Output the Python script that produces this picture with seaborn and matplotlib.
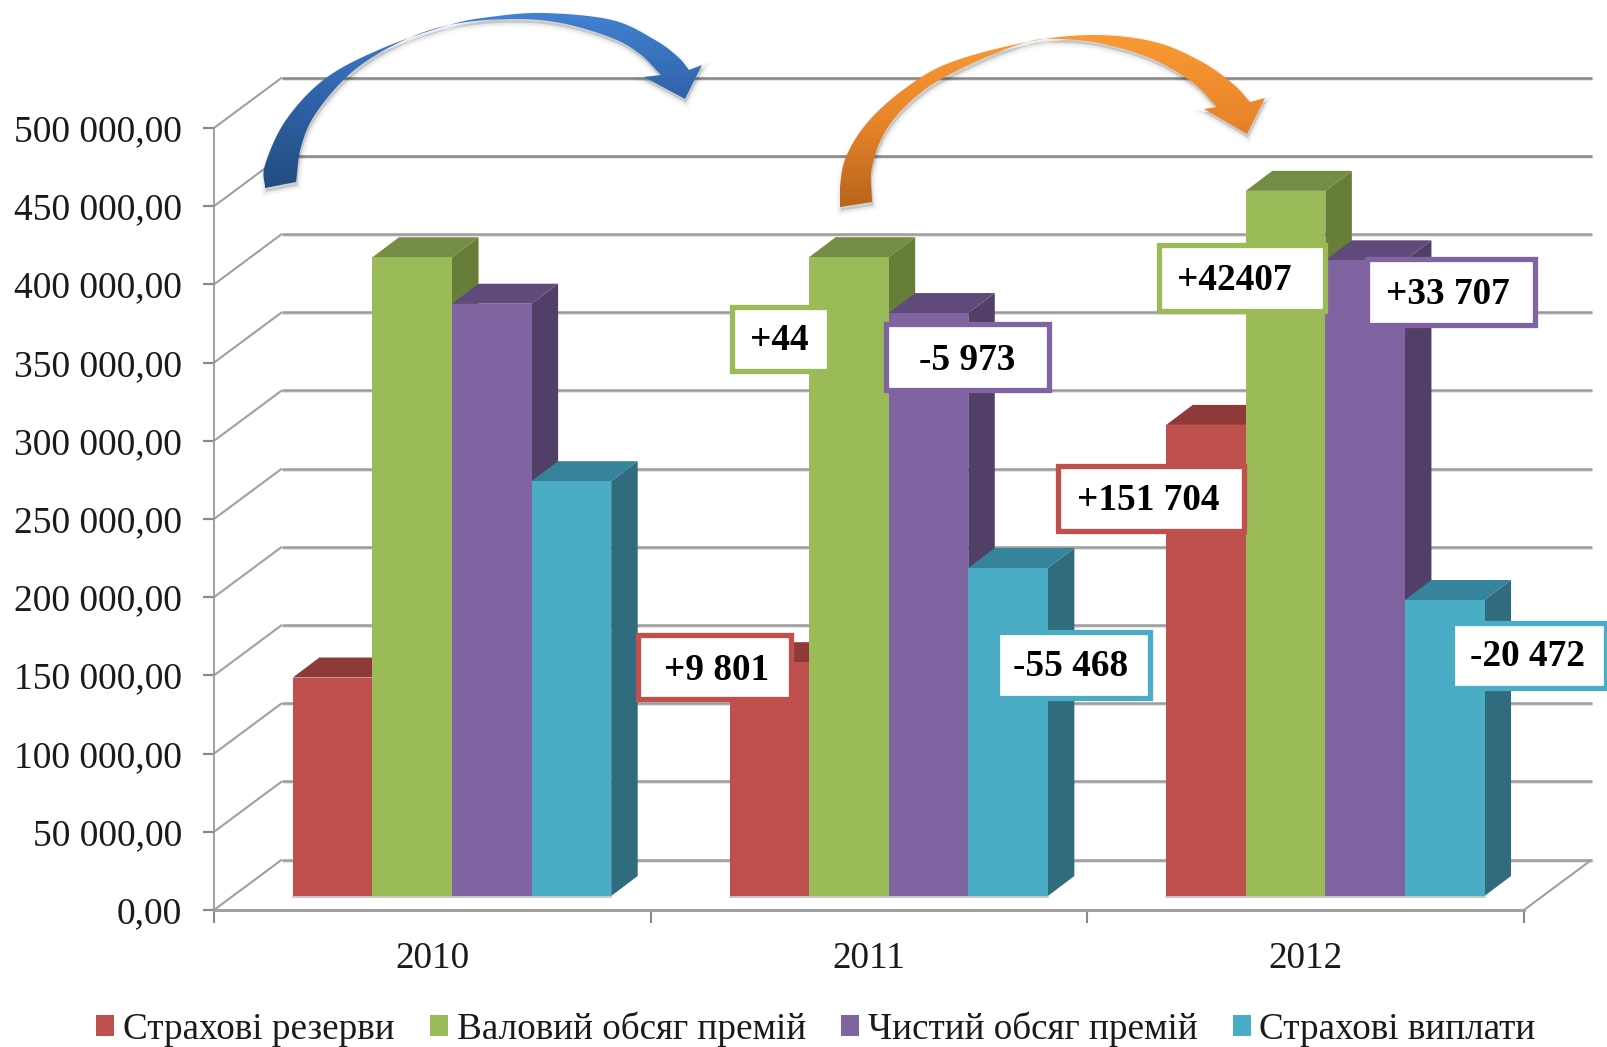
import numpy as np
import pandas as pd
import matplotlib
matplotlib.use("Agg")
import matplotlib.pyplot as plt
import seaborn as sns
from matplotlib.colors import LinearSegmentedColormap
from matplotlib.patches import Polygon, Rectangle
from matplotlib.ticker import FuncFormatter
from matplotlib.transforms import Affine2D

W, H = 1608, 1047
FONT = "Liberation Serif"

# ---- chart data -------------------------------------------------------------
years = ["2010", "2011", "2012"]
series_names = ["Страхові резерви", "Валовий обсяг премій",
                "Чистий обсяг премій", "Страхові виплати"]
reserves = [139700, 149500, 301200]
gross_premiums = [408400, 408444, 450850]
net_premiums = [378700, 372730, 406440]
payouts = [265200, 209730, 189260]
axis_levels = [0, 50000, 100000, 150000, 200000, 250000,
               300000, 350000, 400000, 450000, 500000]

change_labels = ["+9 801", "+44", "-5 973", "-55 468",
                 "+151 704", "+42407", "+33 707", "-20 472"]
change_series = [0, 1, 2, 3, 0, 1, 2, 3]

# ---- styling ---------------------------------------------------------------
front_colors = ["#C0504D", "#9BBB59", "#8064A2", "#4BACC6"]
top_colors = ["#8F3A39", "#748C45", "#604A7B", "#36849B"]
side_colors = ["#7D3331", "#667E38", "#523F68", "#306C7E"]
text_color = "#1A1A1A"

# label boxes: left, top, right, bottom and text centre, in pixels from the top left
box_geometry = [
    (638, 635, 791, 699, 717, 670),
    (732, 307, 829, 371, 779, 341),
    (886, 324, 1049, 390, 967, 360),
    (997, 632, 1150, 698, 1071, 667),
    (1058, 466, 1244, 531, 1148, 500),
    (1159, 245, 1325, 311, 1234, 280),
    (1367, 259, 1535, 325, 1448, 295),
    (1452, 623, 1606, 688, 1528, 657),
]

sns.set_theme(style="white")
plt.rcParams["font.family"] = [FONT, "DejaVu Sans"]

frame = pd.DataFrame({"year": years, series_names[0]: reserves,
                      series_names[1]: gross_premiums,
                      series_names[2]: net_premiums,
                      series_names[3]: payouts})
long_frame = frame.melt(id_vars="year", var_name="series", value_name="value")

fig = plt.figure(figsize=(W / 100, H / 100), dpi=100, facecolor="white")
ax = fig.add_axes([214 / W, (H - 910) / H, 1310 / W, 782 / H])
ax.patch.set_alpha(0)

sns.barplot(data=long_frame, x="year", y="value", hue="series",
            hue_order=series_names, palette=front_colors, saturation=1,
            width=0.729, gap=0, dodge=True, order=years, ax=ax,
            edgecolor="none", linewidth=0)
ax.set_xlim(-0.5, 2.5)
ax.set_ylim(axis_levels[0], axis_levels[-1])
ax.set_xlabel("")
ax.set_ylabel("")

# oblique projection: planes inside the chart box are pixel shifts of the front plane
WALL_DX, WALL_DY = 68, 50.5
BAR_DX, BAR_DY = 19.7, 14
FACE_DX, FACE_DY = 26.5, 20
bar_plane = ax.transData + Affine2D().translate(BAR_DX, BAR_DY)
wall_plane = ax.transData + Affine2D().translate(WALL_DX, WALL_DY)
to_display = Affine2D()


def wall_line(x_pixels, y_pixels, lw, color, z=1):
    ax.plot(x_pixels, y_pixels, color=color, lw=lw, transform=to_display,
            clip_on=False, zorder=z, solid_capstyle="butt")


# back wall gridlines and the slanted left wall lines
for level in axis_levels:
    x0, y0 = ax.transData.transform((-0.5, level))
    x1, y1 = wall_plane.transform((-0.5, level))
    x2, _ = wall_plane.transform((2.5, level))
    wall_line([x1, x2], [y1 - 1, y1 - 1], 1.8, "#DADADA", 0.8)
    wall_line([x1, x2], [y1, y1], 1.8, "#868686" if level >= 450000 else "#9C9C9C")
    wall_line([x0, x1], [y0, y1], 1.5, "#A0A0A0")

# right edge of the floor
xr0, yr0 = ax.transData.transform((2.5, 0))
xr1, yr1 = wall_plane.transform((2.5, 0))
wall_line([xr0, xr1], [yr0, yr1], 1.5, "#A0A0A0")

# extruded bars: each one is painted side, top, front from left to right
for s, container in enumerate(ax.containers):
    for y_i, bar in enumerate(container):
        order = 3 + (y_i * 4 + s) * 0.01
        x, w, h = bar.get_x(), bar.get_width(), bar.get_height()
        (xl, yb) = bar_plane.transform((x, 0))
        (xr, yt) = bar_plane.transform((x + w, h))
        side = Polygon([(xr, yb), (xr + FACE_DX, yb + FACE_DY),
                        (xr + FACE_DX, yt + FACE_DY), (xr, yt)],
                       closed=True, fc=side_colors[s], ec="none",
                       transform=to_display, clip_on=False, zorder=order)
        top = Polygon([(xl, yt), (xl + FACE_DX, yt + FACE_DY),
                       (xr + FACE_DX, yt + FACE_DY), (xr, yt)],
                      closed=True, fc=top_colors[s], ec="none",
                      transform=to_display, clip_on=False, zorder=order)
        ax.add_patch(side)
        ax.add_patch(top)
        bar.set_transform(bar_plane)
        bar.set_clip_on(False)
        bar.set_zorder(order + 0.001)
        ax.plot([xl, xr], [yb - 1, yb - 1], color="#C4C4C4", lw=1.4,
                transform=to_display, clip_on=False, zorder=2.5)

# axes furniture
sns.despine(ax=ax, top=True, right=True)
ax.spines["left"].set(color="#999999", linewidth=1.3)
ax.spines["bottom"].set(color="#A0A0A0", linewidth=2.2)
ax.spines["bottom"].set_zorder(2)
ax.set_yticks(axis_levels)
ax.yaxis.set_major_formatter(FuncFormatter(
    lambda v, _: f"{int(v):,}".replace(",", " ") + ",00"))
ax.tick_params(axis="y", length=8, width=1.6, color="#8A8A8A", pad=15,
               labelsize=27, labelcolor=text_color, left=True)
ax.set_xticks(range(len(years)), labels=years)
ax.set_xticks([-0.5, 0.5, 1.5, 2.5], minor=True)
ax.tick_params(axis="x", which="major", length=0, pad=23, labelsize=26.8,
               labelcolor=text_color)
ax.tick_params(axis="x", which="minor", length=9, width=1.5, color="#8A8A8A",
               bottom=True)
for label in ax.get_xticklabels() + ax.get_yticklabels():
    label.set_family(FONT)

# legend under the chart
sns.move_legend(ax, "center", bbox_to_anchor=(816 / W, (H - 1029) / H),
                bbox_transform=fig.transFigure, ncol=4, frameon=False, title=None,
                fontsize=26.7, handlelength=0.48, handleheight=0.48,
                handletextpad=0.24, columnspacing=0.95, borderpad=0, borderaxespad=0)
for t in ax.get_legend().get_texts():
    t.set_color(text_color)


def fig_xy(points):
    pts = np.asarray(points, dtype=float)
    return np.column_stack((pts[:, 0] / W, 1 - pts[:, 1] / H))


# change labels in white boxes
for text, s, (left, top, right, bottom, tx, ty) in zip(change_labels, change_series, box_geometry):
    (fx, fy) = fig_xy([(left, bottom)])[0]
    ax.add_patch(Rectangle((fx, fy), (right - left) / W, (bottom - top) / H,
                           transform=fig.transFigure, fc="white",
                           ec=front_colors[s], lw=3.8, clip_on=False, zorder=6))
    (gx, gy) = fig_xy([(tx, ty)])[0]
    ax.text(gx, gy, text, transform=fig.transFigure, ha="center", va="center",
            fontsize=26.8, fontweight="bold", color="black", family=FONT, zorder=7)


def smooth(points, per_segment=14):
    """Catmull-Rom sampling through the given outline points."""
    p = np.asarray(points, dtype=float)
    p = np.vstack((2 * p[0] - p[1], p, 2 * p[-1] - p[-2]))
    out = []
    for i in range(1, len(p) - 2):
        for t in np.linspace(0, 1, per_segment, endpoint=False):
            a = 2 * p[i]
            b = (p[i + 1] - p[i - 1]) * t
            c = (2 * p[i - 1] - 5 * p[i] + 4 * p[i + 1] - p[i + 2]) * t ** 2
            d = (-p[i - 1] + 3 * p[i] - 3 * p[i + 1] + p[i + 2]) * t ** 3
            out.append(0.5 * (a + b + c + d))
    out.append(p[-2])
    return np.array(out)


def curved_arrow(outer, head, inner, stops):
    outline = np.vstack((smooth(outer), np.asarray(head, float), smooth(inner)))
    # soft shadow falling below the band
    shifted = outline + np.array([1.0, 3.5])
    for lw, alpha in ((7, 0.02), (4.5, 0.03), (2.5, 0.04), (0.5, 0.05)):
        ax.add_patch(Polygon(fig_xy(shifted), closed=True, transform=fig.transFigure,
                             fc=(0, 0, 0, alpha), ec=(0, 0, 0, alpha), lw=lw,
                             clip_on=False, zorder=4.5))
    shape = Polygon(fig_xy(outline), closed=True, transform=fig.transFigure,
                    fc="none", ec="none", clip_on=False, zorder=5)
    ax.add_patch(shape)
    y_top, y_bottom = outline[:, 1].min(), outline[:, 1].max()
    x_left, x_right = outline[:, 0].min(), outline[:, 0].max()
    cmap = LinearSegmentedColormap.from_list("band", stops)
    ramp = np.linspace(0, 1, 256)[:, None]
    image = ax.imshow(ramp, cmap=cmap, aspect="auto", origin="upper",
                      extent=(x_left / W, x_right / W, 1 - y_bottom / H, 1 - y_top / H),
                      transform=fig.transFigure, zorder=5)
    image.set_clip_box(fig.bbox)
    image.set_clip_path(shape)


curved_arrow(
    outer=[(265, 188), (265, 165), (286, 120), (326, 78), (383, 48), (449, 25),
           (490, 17), (543, 13), (612, 20), (655, 40), (678, 57), (689, 70)],
    head=[(702, 65), (685, 99), (644, 77)],
    inner=[(661, 75), (640, 54), (612, 38), (561, 23), (510, 19), (449, 25), (398, 43),
           (352, 72), (316, 113), (301, 147), (296, 182)],
    stops=["#4282D2", "#2F62A8", "#224C80"],
)
curved_arrow(
    outer=[(840, 207), (840, 187), (846, 157), (867, 123), (903, 90), (949, 63),
           (1027, 42), (1094, 35), (1155, 42), (1202, 62), (1233, 84), (1250, 102)],
    head=[(1265, 98), (1247, 134), (1204, 109)],
    inner=[(1217, 107), (1192, 82), (1150, 58), (1099, 43), (1058, 39), (1027, 42),
           (975, 62), (924, 90), (888, 127), (872, 167), (872, 202)],
    stops=["#FA9A34", "#E8842A", "#B8641C"],
)

ax.set_xlim(-0.5, 2.5)
ax.set_ylim(axis_levels[0], axis_levels[-1])
ax.set_aspect("auto")

fig.savefig("out.png", dpi=100, facecolor="white")
